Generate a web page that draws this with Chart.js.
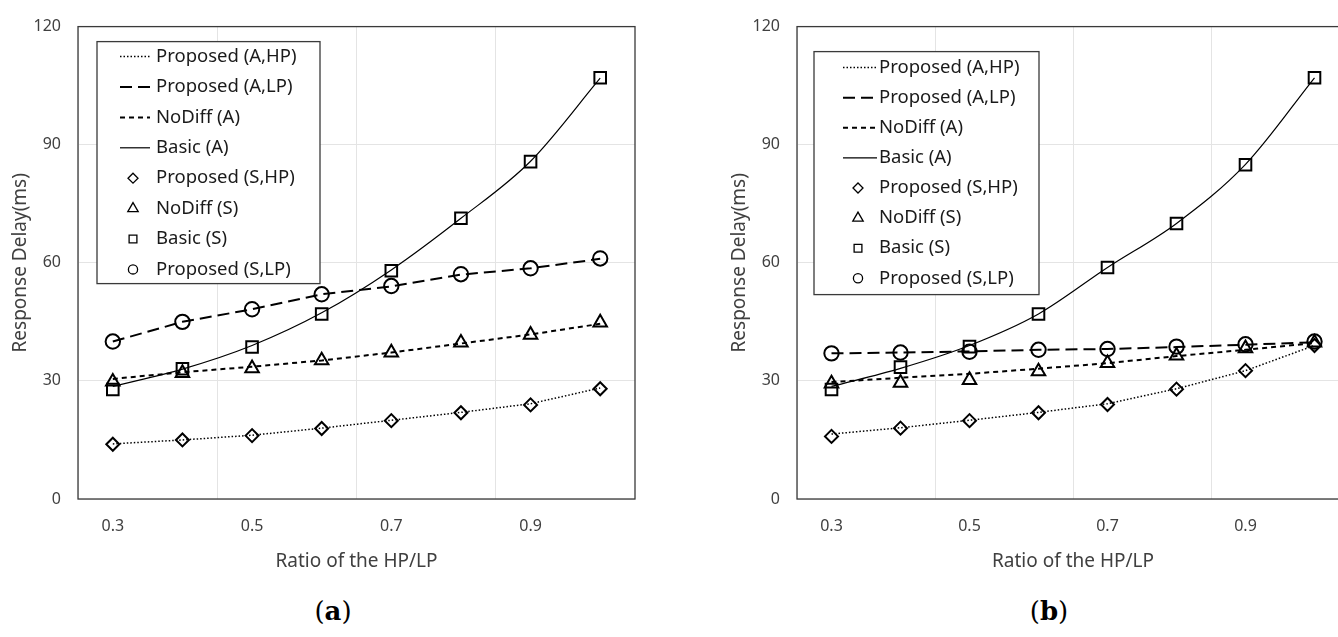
<!DOCTYPE html>
<html>
<head>
<meta charset="utf-8">
<script src="https://cdn.jsdelivr.net/npm/chart.js@4.4.0/dist/chart.umd.min.js"></script>
<style>
    html, body { margin: 0; padding: 0; background: #fff; }
    #page { position: relative; width: 1338px; height: 637px; overflow: hidden; }
    .panel { position: absolute; top: 0; height: 580px; }
    #panelA { left: 0; width: 660px; }
    #panelB { left: 719px; width: 655px; }
    .caption { position: absolute; top: 596px; width: 80px; text-align: center; font-family: "DejaVu Serif", serif; font-size: 26px; color: #000; }
</style>
</head>
<body>
<div id="page">
    <div class="panel" id="panelA"><canvas id="chartA"></canvas></div>
    <div class="panel" id="panelB"><canvas id="chartB"></canvas></div>
    <div class="caption" style="left:293px">(<b>a</b>)</div>
    <div class="caption" style="left:1009px">(<b>b</b>)</div>
</div>
<script>
const ratios = ['0.3', '0.4', '0.5', '0.6', '0.7', '0.8', '0.9', '1.0'];
const yTicks = [0, 30, 60, 90, 120];

// (a)
const aHpA     = [14, 15, 16.2, 18, 20, 22, 24.2, 28.2];
const aLpA     = [40, 45, 48.2, 52, 54, 57, 58.6, 61];
const aNoDiffA = [30.5, 32.2, 33.6, 35.2, 37.2, 39.5, 41.8, 44.5];
const aBasicA  = [28.6, 33, 39, 47.3, 58.2, 71.3, 85.8, 106.9];
const aHpS     = [13.9, 15, 16.1, 17.9, 19.9, 21.9, 23.9, 28];
const aNoDiffS = [29.8, 32, 33.2, 35.2, 37.2, 39.7, 41.7, 44.8];
const aBasicS  = [27.8, 33.1, 38.6, 47, 58, 71.3, 85.7, 107];
const aLpS     = [40, 45, 48.2, 52, 54.1, 57.1, 58.6, 61.1];

// (b)
const bHpA     = [16.5, 18.1, 20, 22, 24.2, 28, 32.6, 39];
const bLpA     = [37, 37.2, 37.5, 37.9, 38.1, 38.6, 39.2, 39.8];
const bNoDiffA = [29.7, 30.8, 31.8, 33.1, 34.5, 36.3, 37.9, 39.6];
const bBasicA  = [28.6, 33.2, 39, 47, 58.8, 70, 85, 107];
const bHpS     = [15.9, 18, 19.9, 21.9, 24, 27.9, 32.6, 39];
const bNoDiffS = [29.3, 29.5, 30.2, 32.4, 34.5, 36.4, 38.3, 39.7];
const bBasicS  = [27.8, 33.5, 38.7, 47, 58.8, 70, 84.9, 107];
const bLpS     = [37, 37.2, 37.4, 37.9, 38.1, 38.7, 39.3, 40];

const GRID = '#e4e4e4';
const FRAME = '#3a3a3a';
const TEXT = '#404040';
const legendMarkSize = { rectRot: 5, triangle: 6, rect: 5.5, circle: 4.6 };

Chart.defaults.font.family = '"Noto Sans", sans-serif';
Chart.defaults.color = TEXT;

function lineSet(label, data, dash, width, smooth) {
    return {
        label: label, data: data, borderColor: '#000', borderWidth: width,
        borderDash: dash, pointRadius: 0, fill: false,
        cubicInterpolationMode: smooth ? 'monotone' : 'default'
    };
}

function markSet(label, data, style, radius) {
    return {
        label: label, data: data, showLine: false, pointStyle: style,
        pointRadius: radius, pointBorderWidth: 2, pointBorderColor: '#000',
        pointBackgroundColor: 'rgba(0,0,0,0)', borderColor: '#000'
    };
}

const frameAndLegend = {
    id: 'frameAndLegend',
    beforeDatasetsDraw(chart) {
        const ctx = chart.ctx, a = chart.chartArea;
        ctx.save();
        ctx.strokeStyle = FRAME;
        ctx.lineWidth = 1.3;
        ctx.strokeRect(a.left, a.top, a.right - a.left, a.bottom - a.top);
        ctx.restore();
    },
    afterDraw(chart, args, opts) {
        const ctx = chart.ctx, a = chart.chartArea;
        const x0 = a.left + opts.left, y0 = a.top + opts.top;
        ctx.save();
        ctx.fillStyle = '#fff';
        ctx.fillRect(x0, y0, opts.width, opts.height);
        ctx.strokeStyle = FRAME;
        ctx.lineWidth = 1.3;
        ctx.strokeRect(x0, y0, opts.width, opts.height);
        ctx.font = '18.5px "Noto Sans"';
        ctx.textBaseline = 'middle';
        chart.data.datasets.forEach((ds, i) => {
            const y = y0 + opts.firstRow + i * opts.rowGap;
            ctx.save();
            if (ds.showLine === false) {
                ctx.strokeStyle = '#000';
                ctx.fillStyle = 'rgba(0,0,0,0)';
                Chart.helpers.drawPoint(ctx, {
                    pointStyle: ds.pointStyle, radius: legendMarkSize[ds.pointStyle],
                    borderWidth: 2, rotation: 0
                }, x0 + opts.markX, y);
            } else {
                ctx.strokeStyle = ds.borderColor;
                ctx.lineWidth = ds.borderWidth;
                ctx.setLineDash(ds.borderDash || []);
                ctx.beginPath();
                ctx.moveTo(x0 + opts.lineFrom, y);
                ctx.lineTo(x0 + opts.lineTo, y);
                ctx.stroke();
            }
            ctx.restore();
            ctx.fillStyle = '#1a1a1a';
            ctx.fillText(ds.label, x0 + opts.textX, y);
        });
        ctx.restore();
    }
};

function makeChart(id, s, legendPos, rightPad) {
    new Chart(document.getElementById(id), {
        type: 'line',
        data: {
            labels: ratios,
            datasets: [
                lineSet('Proposed (A,HP)', s[0], [1.5, 2], 1.5),
                lineSet('Proposed (A,LP)', s[1], [12, 6], 2),
                lineSet('NoDiff (A)', s[2], [5, 4], 2),
                lineSet('Basic (A)', s[3], [], 1.2, true),
                markSet('Proposed (S,HP)', s[4], 'rectRot', 6.5),
                markSet('NoDiff (S)', s[5], 'triangle', 7.8),
                markSet('Basic (S)', s[6], 'rect', 8.2),
                markSet('Proposed (S,LP)', s[7], 'circle', 7.2)
            ]
        },
        options: {
            responsive: true,
            maintainAspectRatio: false,
            animation: false,
            layout: { padding: { top: 22, right: rightPad, bottom: 0, left: 0 } },
            plugins: {
                legend: { display: false },
                tooltip: { enabled: false },
                frameAndLegend: legendPos
            },
            scales: {
                x: {
                    type: 'category',
                    offset: true,
                    grid: {
                        offset: true,
                        drawTicks: false,
                        color: (c) => (c.index % 2 === 0 ? GRID : 'rgba(0,0,0,0)')
                    },
                    border: { display: false },
                    ticks: {
                        autoSkip: false,
                        maxRotation: 0,
                        padding: 18,
                        font: { size: 16 },
                        callback: function (value, index) {
                            return index % 2 === 0 ? this.getLabelForValue(value) : '';
                        }
                    },
                    title: {
                        display: true,
                        text: 'Ratio of the HP/LP',
                        font: { size: 19 },
                        padding: { bottom: 7 }
                    },
                    afterFit: (scale) => { scale.height = 81; }
                },
                y: {
                    min: 0,
                    max: 120,
                    afterBuildTicks: (scale) => { scale.ticks = yTicks.map(v => ({ value: v })); },
                    grid: { color: GRID, drawTicks: false },
                    border: { display: false },
                    ticks: { padding: 17, font: { size: 16 } },
                    title: {
                        display: true,
                        text: 'Response Delay(ms)',
                        font: { size: 19 },
                        padding: { top: 9 }
                    },
                    afterFit: (scale) => { scale.width = 78; }
                }
            }
        },
        plugins: [frameAndLegend]
    });
}

makeChart('chartA', [aHpA, aLpA, aNoDiffA, aBasicA, aHpS, aNoDiffS, aBasicS, aLpS],
    { left: 19, top: 15, width: 223, height: 242, firstRow: 15, rowGap: 30.4,
      lineFrom: 23, lineTo: 53, markX: 36, textX: 59 }, 25);

makeChart('chartB', [bHpA, bLpA, bNoDiffA, bBasicA, bHpS, bNoDiffS, bBasicS, bLpS],
    { left: 17, top: 25, width: 225, height: 243, firstRow: 16, rowGap: 30.1,
      lineFrom: 29, lineTo: 63, markX: 44, textX: 65 }, 25);
</script>
</body>
</html>
